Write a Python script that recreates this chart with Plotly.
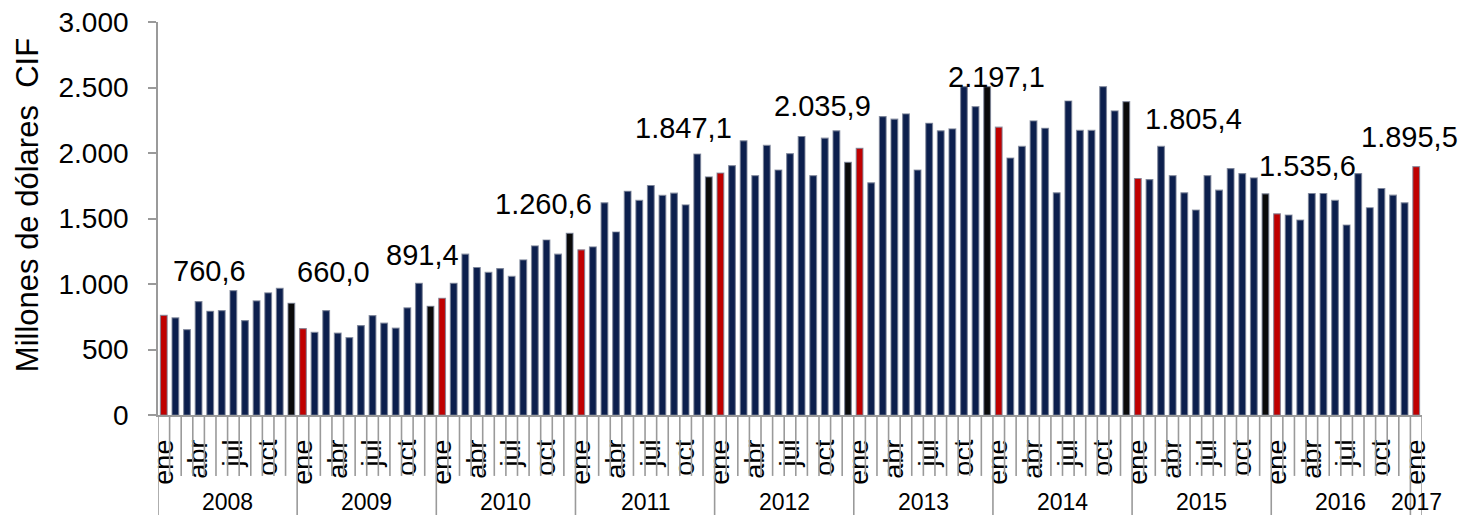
import plotly.graph_objects as go

# ---------------- data ----------------
years = [2008, 2009, 2010, 2011, 2012, 2013, 2014, 2015, 2016, 2017]
months = ["ene", "feb", "mar", "abr", "may", "jun", "jul", "ago", "sep", "oct", "nov", "dic"]
shown_months = ["ene", "abr", "jul", "oct"]

v2008 = [760.6, 742, 651, 866, 792, 797, 949, 721, 871, 932, 967, 853]
v2009 = [660.0, 630, 797, 625, 590, 683, 759, 701, 663, 818, 1005, 830]
v2010 = [891.4, 1005, 1228, 1126, 1088, 1118, 1058, 1184, 1291, 1336, 1228, 1387]
v2011 = [1260.6, 1283, 1620, 1397, 1708, 1638, 1752, 1676, 1693, 1604, 1992, 1817]
v2012 = [1847.1, 1903, 2093, 1827, 2058, 1870, 1995, 2126, 1827, 2113, 2169, 1929]
v2013 = [2035.9, 1772, 2278, 2258, 2298, 1870, 2227, 2169, 2184, 2506, 2354, 2506]
v2014 = [2197.1, 1961, 2050, 2245, 2189, 1696, 2397, 2172, 2172, 2506, 2321, 2392]
v2015 = [1805.4, 1797, 2050, 1827, 1696, 1564, 1827, 1716, 1881, 1843, 1810, 1688]
v2016 = [1535.6, 1526, 1488, 1691, 1691, 1638, 1450, 1843, 1582, 1729, 1678, 1620]
v2017 = [1895.5]

y_title = "Millones de dólares  CIF"
y_ticks = [0, 500, 1000, 1500, 2000, 2500, 3000]

# ---------------- build ----------------
series = [v2008, v2009, v2010, v2011, v2012, v2013, v2014, v2015, v2016, v2017]
values, month_of, year_of = [], [], []
for yr, vals in zip(years, series):
    for m, v in zip(months, vals):
        values.append(v)
        month_of.append(m)
        year_of.append(yr)
n = len(values)
x = list(range(n))

NAVY = "#0c1f4d"
RED = "#c00000"
BLACK = "#0a0a0a"
colors = []
for m, yr in zip(month_of, year_of):
    if m == "ene":
        colors.append(RED)
    elif m == "dic" and yr < 2016:
        colors.append(BLACK)
    else:
        colors.append(NAVY)

FONT = "Liberation Sans, Arial, sans-serif"

fig = go.Figure()
fig.add_trace(go.Bar(
    x=x, y=values,
    marker=dict(color=colors, line=dict(color="rgba(120,128,150,0.75)", width=1.2)),
    width=0.58,
    hoverinfo="y",
))

def fmt(v):
    s = f"{v:,.1f}"
    return s.replace(",", "X").replace(".", ",").replace("X", ".")

# data labels for January bars (manually placed, as in the original)
label_pos = {2008: (3.9, 1101), 2009: (14.6, 1088), 2010: (22.3, 1222),
             2011: (32.7, 1613), 2012: (44.8, 2194), 2013: (56.8, 2361),
             2014: (71.8, 2582), 2015: (88.8, 2259), 2016: (98.6, 1898),
             2017: (107.45, 2122)}
annotations = []
for i in range(n):
    if month_of[i] == "ene":
        lx, ly = label_pos[year_of[i]]
        annotations.append(dict(x=lx, y=ly, xref="x", yref="y", text=fmt(values[i]),
                                showarrow=False, xanchor="center", yanchor="middle",
                                font=dict(family=FONT, size=29, color="black")))

# year labels
for yr in years:
    idx = [i for i in range(n) if year_of[i] == yr]
    cx = (idx[0] + idx[-1]) / 2
    annotations.append(dict(x=cx, y=-0.222, xref="x", yref="paper", text=str(yr),
                            showarrow=False, xanchor="center", yanchor="middle",
                            font=dict(family=FONT, size=23, color="black")))

# y-axis title
annotations.append(dict(x=-0.1036, y=0.534, xref="paper", yref="paper", text=y_title,
                        showarrow=False, textangle=-90, xanchor="center", yanchor="middle",
                        font=dict(family=FONT, size=31, color="black")))

# separators (month ticks and year dividers)
shapes = []
for i in range(n + 1):
    boundary = (i == n) or (i % 12 == 0)
    shapes.append(dict(type="line", xref="x", yref="paper", x0=i - 0.5, x1=i - 0.5,
                       y0=0, y1=-0.276 if boundary else -0.155,
                       line=dict(color="#9a9a9a", width=1.6)))

tickvals = [i for i in range(n) if month_of[i] in shown_months]
ticktext = [month_of[i] for i in tickvals]

fig.update_layout(
    width=1454, height=507,
    margin=dict(l=150, r=40, t=14, b=100),
    plot_bgcolor="white", paper_bgcolor="white",
    separators=",.",
    showlegend=False,
    bargap=0.4,
    annotations=annotations,
    shapes=shapes,
    font=dict(family=FONT, color="black"),
)
fig.update_xaxes(
    range=[-0.5, n - 0.5], tickmode="array", tickvals=tickvals, ticktext=ticktext,
    tickangle=-90, ticks="", showgrid=False, zeroline=False,
    showline=True, linecolor="#9a9a9a", linewidth=1.6,
    tickfont=dict(family=FONT, size=27, color="black"),
    ticklabelstandoff=12, ticklabeloverflow="allow", automargin=False,
)
fig.update_yaxes(
    range=[0, 3000], tickvals=y_ticks, tickformat=",.0f", showgrid=False, zeroline=False,
    showline=True, linecolor="#9a9a9a", linewidth=1.6,
    ticks="outside", ticklen=8, tickcolor="#9a9a9a", tickwidth=1.6,
    tickfont=dict(family=FONT, size=28, color="black"),
    ticklabelstandoff=14, ticklabeloverflow="allow", automargin=False,
)

fig.write_html("out.html")
